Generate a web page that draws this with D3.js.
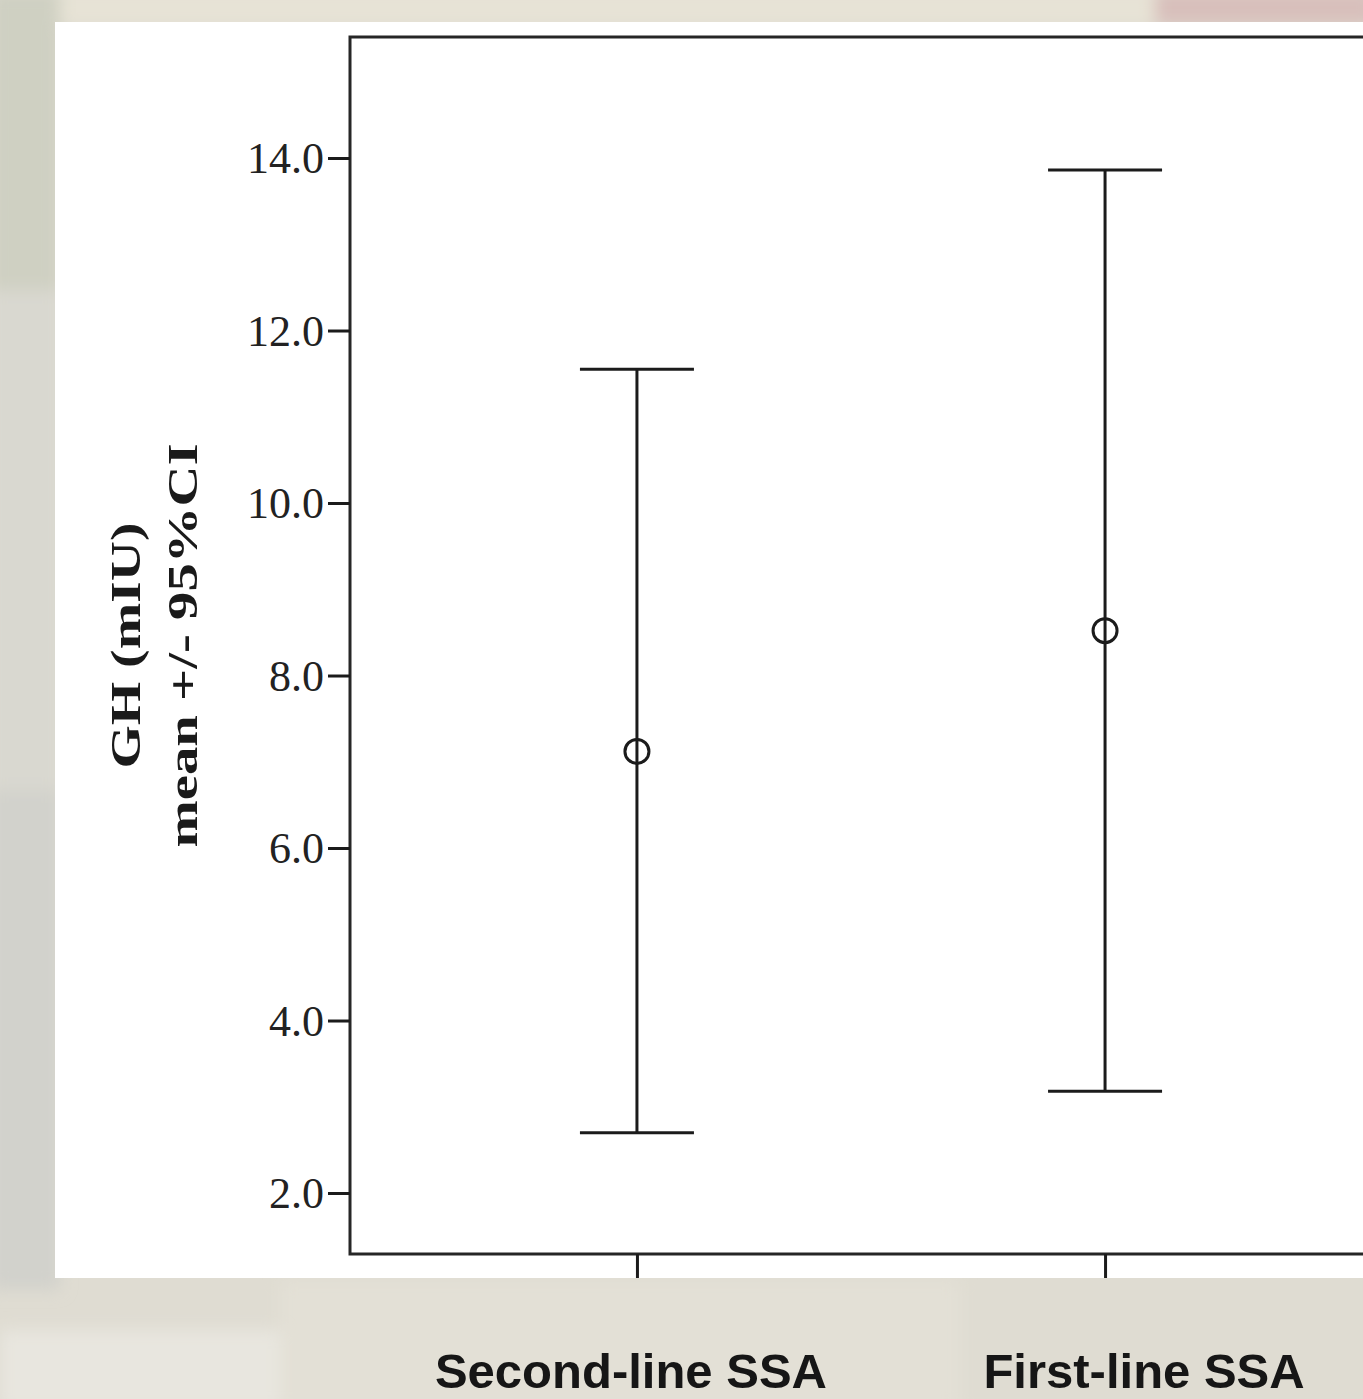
<!DOCTYPE html>
<html>
<head>
<meta charset="utf-8">
<script src="https://d3js.org/d3.v7.min.js"></script>
<style>
  body { margin: 0; background: #dedbd1; }
  svg { display: block; }
</style>
</head>
<body>
<svg id="chart" width="1363" height="1399"></svg>
<script>
// data
const groups = ["Second-line SSA", "First-line SSA"];
const means = [7.12, 8.52];
const lowerCI = [2.70, 3.18];
const upperCI = [11.55, 13.86];
const yTicks = [2, 4, 6, 8, 10, 12, 14];
const yTitle = ["GH (mIU)", "mean +/- 95%CI"];

const svg = d3.select("#chart");
const W = +svg.attr("width"), H = +svg.attr("height");

// blurred photo-ish backdrop
const defs = svg.append("defs");
defs.append("filter").attr("id", "blur")
  .attr("x", "-20%").attr("y", "-20%").attr("width", "140%").attr("height", "140%")
  .append("feGaussianBlur").attr("stdDeviation", 8);

svg.append("rect").attr("width", W).attr("height", H).attr("fill", "#dfdcd2");
const bg = svg.append("g").attr("filter", "url(#blur)");
bg.append("rect").attr("x", -10).attr("y", -10).attr("width", 70).attr("height", 300).attr("fill", "#cfd0c2");
bg.append("rect").attr("x", -10).attr("y", 290).attr("width", 70).attr("height", 500).attr("fill", "#d9d8d0");
bg.append("rect").attr("x", -10).attr("y", 790).attr("width", 70).attr("height", 500).attr("fill", "#d2d2cc");
bg.append("rect").attr("x", 60).attr("y", -10).attr("width", 1100).attr("height", 35).attr("fill", "#e7e3d6");
bg.append("rect").attr("x", 1155).attr("y", -10).attr("width", 220).attr("height", 35).attr("fill", "#d8bfbb");
bg.append("rect").attr("x", 280).attr("y", 1280).attr("width", 680).attr("height", 130).attr("fill", "#e3e0d6");
bg.append("rect").attr("x", 0).attr("y", 1330).attr("width", 280).attr("height", 80).attr("fill", "#e8e6df");

// white panel
svg.append("rect").attr("x", 55).attr("y", 22).attr("width", W - 55).attr("height", 1256).attr("fill", "#ffffff");

const plot = { left: 350, top: 37, right: 1392, bottom: 1254 };

const y = d3.scaleLinear()
  .domain([1.293, 15.403])
  .range([plot.bottom, plot.top]);

const x = d3.scalePoint()
  .domain(groups)
  .range([plot.left, plot.right])
  .padding(0.613);

const ink = "#1b1b1b";

// frame
svg.append("rect")
  .attr("x", plot.left).attr("y", plot.top)
  .attr("width", plot.right - plot.left).attr("height", plot.bottom - plot.top)
  .attr("fill", "none").attr("stroke", "#262626").attr("stroke-width", 3);

// y axis
const yAxis = svg.append("g")
  .attr("transform", `translate(${plot.left},0)`)
  .call(d3.axisLeft(y).tickValues(yTicks).tickFormat(d3.format(".1f")).tickSize(22).tickPadding(4));
yAxis.select(".domain").remove();
yAxis.selectAll("line").attr("stroke", ink).attr("stroke-width", 3);
yAxis.selectAll("text")
  .attr("fill", "#222")
  .style("font-family", "'Liberation Serif', 'Times New Roman', serif")
  .style("font-size", "44px")
  .attr("dy", "0.34em");

// x axis ticks (labels drawn separately)
const xAxis = svg.append("g")
  .attr("transform", `translate(0,${plot.bottom})`)
  .call(d3.axisBottom(x).tickSize(24).tickFormat(""));
xAxis.select(".domain").remove();
xAxis.selectAll("line").attr("stroke", ink).attr("stroke-width", 3);

// error bars
const rows = groups.map((g, i) => ({ g, m: means[i], lo: lowerCI[i], hi: upperCI[i] }));
const capHalf = 57;
const bars = svg.append("g").attr("stroke", ink).attr("stroke-width", 3).attr("fill", "none");
bars.selectAll(".stem").data(rows).join("line")
  .attr("x1", d => x(d.g)).attr("x2", d => x(d.g))
  .attr("y1", d => y(d.hi)).attr("y2", d => y(d.lo));
bars.selectAll(".capHi").data(rows).join("line")
  .attr("x1", d => x(d.g) - capHalf).attr("x2", d => x(d.g) + capHalf)
  .attr("y1", d => y(d.hi)).attr("y2", d => y(d.hi));
bars.selectAll(".capLo").data(rows).join("line")
  .attr("x1", d => x(d.g) - capHalf).attr("x2", d => x(d.g) + capHalf)
  .attr("y1", d => y(d.lo)).attr("y2", d => y(d.lo));
bars.selectAll("circle").data(rows).join("circle")
  .attr("cx", d => x(d.g)).attr("cy", d => y(d.m)).attr("r", 12);

// y title, two rotated lines
const midY = (plot.top + plot.bottom) / 2;
const titleX = [140, 197];
const titleLen = [246, 404];
yTitle.forEach((t, i) => {
  svg.append("text")
    .attr("transform", `translate(${titleX[i]},${midY}) rotate(-90)`)
    .attr("text-anchor", "middle")
    .attr("textLength", titleLen[i])
    .attr("lengthAdjust", "spacingAndGlyphs")
    .attr("fill", "#1a1a1a")
    .style("font-family", "'Liberation Serif', 'Times New Roman', serif")
    .style("font-weight", "bold")
    .style("font-size", "42px")
    .text(t);
});

// category labels (sit a little off the ticks in the original)
const labelShift = [-6, 39];
svg.selectAll(".cat").data(groups).join("text")
  .attr("x", (d, i) => x(d) + labelShift[i])
  .attr("y", 1388)
  .attr("text-anchor", "middle")
  .attr("fill", "#161616")
  .style("font-family", "'Liberation Sans', Arial, sans-serif")
  .style("font-weight", "bold")
  .style("font-size", "49px")
  .text(d => d);
</script>
</body>
</html>
